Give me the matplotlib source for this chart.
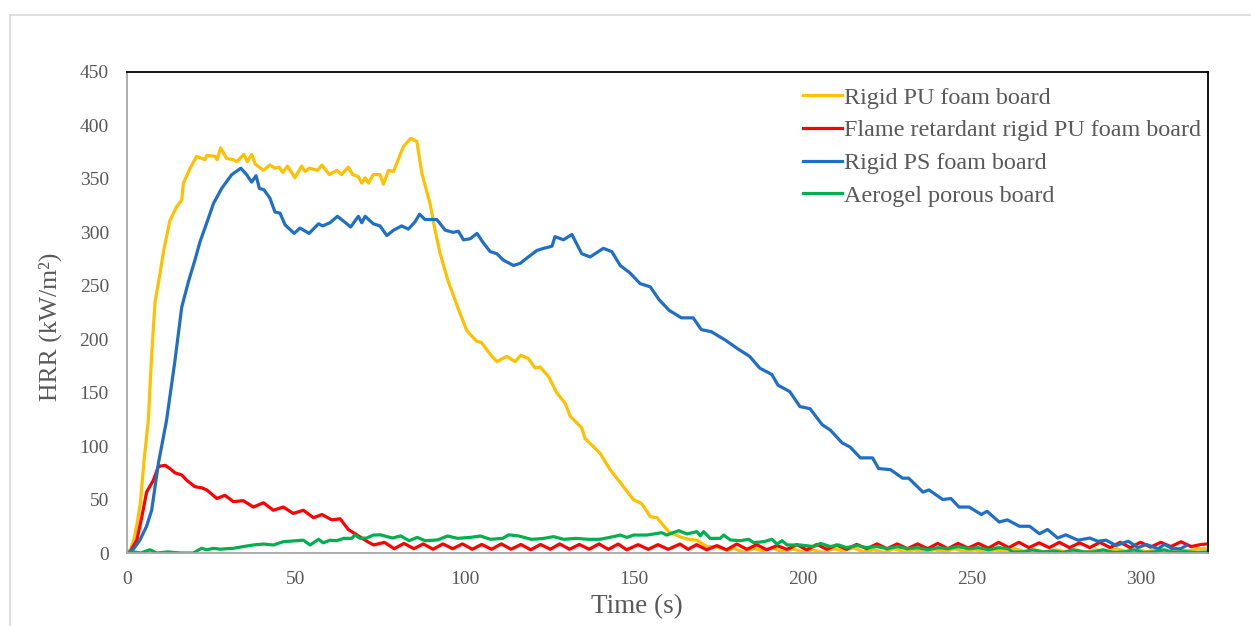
import matplotlib
matplotlib.use("Agg")
import matplotlib.pyplot as plt
from matplotlib.patches import Rectangle

plt.rcParams['font.family'] = ['Liberation Serif', 'DejaVu Serif']

# ---------------- data ----------------
labels = ["Rigid PU foam board", "Flame retardant rigid PU foam board",
          "Rigid PS foam board", "Aerogel porous board"]
colors = ["#FFC000", "#FF0000", "#1F6FC5", "#00B050"]

pu_t = [0, 1, 2, 3, 4, 5, 5.5, 6.3, 7.3, 8.3, 9.8, 10.8, 12.7, 14.7, 16.2, 16.7, 18.7, 20.6,
        23.1, 23.6, 26.1, 26.7, 27.7, 29.5, 31.5, 32.5, 34.6, 35.6, 36.9, 37.9, 40.4, 42.3,
        43.8, 45, 46.1, 47.5, 49.7, 51.7, 52.7, 54, 56.4, 57.7, 59.9, 62.1, 63.5, 65.5, 66.8,
        68.5, 69.5, 70.5, 71.5, 72.9, 74.9, 75.9, 77.4, 78.9, 80.3, 81.8, 84.0, 85.8, 87.3,
        89.7, 91.2, 92.7, 95.1, 98.1, 100.6, 103.5, 104.9, 108, 109.5, 112.4, 114.9, 116.6,
        118.8, 120.8, 122.3, 124.8, 127.2, 129.7, 131.2, 134.6, 135.6, 137.6, 140.1, 143.0,
        146.0, 149.9, 152.4, 154.9, 156.9, 160.3, 163.8, 166, 168.7, 171.7, 174.6, 177.6,
        179.6, 182.6, 185.5, 188, 191, 194, 197, 200, 203, 206, 209, 212, 215, 218, 221, 224,
        227, 230, 233, 236, 239, 242, 245, 248, 251, 254, 257, 260, 263, 266, 269, 272, 275,
        278, 281, 284, 287, 290, 293, 296, 299, 302, 305, 308, 311, 314, 317, 320]
pu_v = [0, 3, 12, 28, 48, 85, 100, 124, 185, 235, 262, 282, 311, 324, 330, 346, 360, 371,
        368, 372, 371, 368, 379, 369, 368, 366, 373, 366, 373, 364, 358, 363,
        360, 361, 356, 362, 351, 362, 357, 360, 358, 363, 354, 358, 354, 361, 354,
        352, 346, 351, 346, 354, 354, 345, 358, 357, 368, 380, 388, 385, 355,
        327, 302, 280, 254, 228, 208, 198, 197, 184, 179, 184, 179, 185,
        182, 173, 174, 165, 150, 140, 128, 117, 107, 101, 93, 78,
        66, 50, 46, 34, 33, 20, 15, 13, 12, 6, 5.6, 2.8,
        4.4, 0.5, 4.4, 2, 5, 1, 4, 1, 3, 0.5, 4, 2, 5, 1, 3, 0.5,
        4, 1, 3, 0.5, 3, 1, 4, 1, 3, 0.5, 3, 1, 4, 1, 3, 0.5, 3,
        1, 3, 0.5, 3, 1, 4, 1, 3, 1, 4, 1, 3, 2, 4, 4]

fr_t = [0, 0.9, 2.9, 4.4, 5.8, 7.8, 9.3, 11.3, 12.7, 14.2, 16.2, 17.7, 20.1, 22.1, 23.6,
        26.6, 29, 31.5, 34.4, 37.4, 40.4, 43.3, 46.3, 49.2, 52.2, 55.2, 57.7, 60.6, 63.1,
        65.5, 68, 71, 73, 76.2, 79.1, 82, 84.9, 87.7, 90.6, 93.5, 96.4, 99.3, 102.2, 105,
        107.9, 110.8, 113.7, 116.6, 119.5, 122.4, 125.3, 128.1, 131, 133.9, 136.8, 139.7,
        142.5, 145.4, 147.9, 151.3, 154.3, 157.2, 160.2, 163.7, 166.1, 168.6, 171.6, 174.6,
        177.5, 180.5, 183.5, 186.4, 189.4, 192.4, 195.4, 198.3, 201.2, 204.2, 207.2, 210,
        213, 216, 219, 222, 225, 228, 231, 234, 237, 240, 243, 246, 249, 252, 255, 258,
        261, 264, 267, 270, 273, 276, 279, 282, 285, 288, 291, 294, 297, 300, 303, 306,
        309, 312, 315, 318, 320]
fr_v = [0, 1, 12, 34, 57, 68, 81, 82, 79, 75, 73, 68, 62, 61, 59,
        51, 54, 48, 49, 43, 47, 40, 43, 37, 40, 33, 36, 31, 32,
        22, 17, 11, 7.5, 10, 4, 9, 4, 8.5, 3.5, 8.5, 4, 8.5, 3.5, 8,
        3.5, 8.5, 3.5, 8, 3, 8, 3.5, 8.5, 3.5, 8, 3.5, 8.5,
        3.4, 8.4, 3, 7.8, 3.4, 7.8, 3.4, 8.4, 3.4, 7.8, 3, 6.9,
        3, 8.4, 3.4, 7.8, 3, 6.9, 3.4, 7.8, 3, 8, 3.5, 7.5,
        3.5, 8, 4, 8.5, 4, 8.5, 4, 8.5, 4, 9, 4, 9, 4.5, 9, 4.5, 10,
        5, 10, 5, 9.5, 5, 10, 5, 9.5, 5, 10, 5, 10, 5, 10, 5.5, 10,
        6, 10.5, 6, 8, 8.5]

ps_t = [0, 0.4, 2, 3.8, 5.8, 7.3, 8.3, 9.3, 10.8, 11.7, 14.2, 16.2, 18.2, 20.1, 21.6, 23.4,
        25.6, 28, 31, 33.7, 35.4, 36.9, 38.2, 39.2, 40.5, 42.3, 43.8, 45.3, 46.8, 49.5, 51.2,
        53.9, 56.7, 57.9, 60.1, 62.3, 63.9, 66.2, 68.5, 69.5, 70.5, 72.9, 74.9, 76.9, 78.9,
        81.3, 83.3, 85.3, 86.6, 88.2, 91.7, 94.2, 96.6, 98.1, 99.6, 101.6, 103.6, 105.5,
        107.5, 109.5, 111.4, 114.4, 116.4, 118.4, 121.3, 123.3, 125.8, 126.7, 129.2, 131.7,
        134.6, 137.1, 141, 143.5, 146, 148.9, 151.9, 154.9, 157.5, 160.5, 164.1, 167.6, 170,
        173, 177.2, 180.8, 184.3, 187.3, 190.9, 192.7, 196.2, 199.2, 202.2, 205.8, 208.2,
        211.7, 214.1, 217.1, 220.7, 222.5, 226, 229.6, 231.4, 235.6, 237.4, 241.5, 243.9,
        246.3, 249.3, 252.9, 254.6, 258.2, 260.6, 264.2, 267.2, 270.1, 272.5, 275.5, 277.9,
        281.5, 285, 287.4, 289.8, 292.8, 296.4, 299.3, 301.7, 305.3, 307.1, 309.5, 311.9,
        313.6]
ps_v = [0, 0, 4, 12, 25, 40, 62, 84, 109, 124, 180, 230, 254, 274, 291, 307,
        327, 341, 354, 360, 354, 347, 353, 341, 340, 332, 319, 318, 307, 299, 304,
        299, 308, 306, 309, 315, 311, 305, 315, 309, 315, 308, 306, 297, 302,
        306, 303, 310, 317, 312, 312, 302, 300, 301, 293, 294, 299, 290,
        282, 280, 274, 269, 271, 276, 283, 285, 287, 296, 293, 298,
        280, 277, 285, 282, 269, 262, 252, 249, 237, 227, 220, 220, 209,
        207, 199, 191, 184, 173, 167, 157, 151, 137, 135, 120, 115,
        103, 99, 89, 89, 79, 78, 70, 70, 57, 59, 50, 51,
        43, 43, 36, 39, 29, 31, 25, 25, 18, 22, 14, 17,
        12, 14, 11, 12, 7, 11, 5, 8, 4, 8, 4, 4,
        7]

ag_t = [0, 2, 4, 6.8, 8.8, 12, 16, 19.6, 22.1, 23.6, 25.6, 27.6, 29.5, 31.5, 34.4, 37.4,
        40.4, 43.3, 46.3, 50.2, 52.2, 54.2, 56.7, 58.1, 60.1, 62.1, 64.1, 66.5, 67.5, 69,
        71, 72.9, 75, 78.6, 81, 83.5, 85.9, 88.3, 91.9, 94.9, 97.9, 101.6, 104.6, 107.6,
        111.2, 113, 116, 119.7, 123, 126.3, 129.3, 132.9, 136.6, 140, 144, 146, 148, 150,
        153.9, 158.3, 159.8, 163.3, 165.8, 168.7, 169.7, 170.7, 172.6, 175.6, 176.6, 178.6,
        181.5, 184, 185.5, 188.5, 190.9, 192.4, 193.9, 195.4, 199.3, 203.3, 205.3, 208.2,
        210.7, 213, 216, 219, 222, 225, 228, 231, 234, 237, 240, 243, 246, 249, 252, 255,
        258, 261, 262, 265, 268, 271, 274, 277, 280, 283, 286, 289, 292, 295, 298, 301,
        304, 307, 310, 313, 316, 320]
ag_v = [0, 1, 0, 3, 0, 1, 0, 0, 4.4, 3, 4.4, 3.5, 4, 4.4, 6, 7.5,
        8.4, 7.5, 10.6, 11.5, 12, 7.5, 12.8, 9.5, 12, 11.5, 13.7, 13.7, 16.8, 13.7,
        14, 16.8, 17, 14, 16, 11.5, 14.6, 11.5, 12.2, 15.9, 13.7, 14.6, 15.9, 12.8,
        13.7, 17, 15.9, 12.8, 13.5, 15.3, 12.8, 13.7, 12.8, 12.8, 15.3, 16.8, 14.6, 16.8,
        16.8, 19, 16.8, 20.9, 17.8, 20, 16, 20, 13.7, 13.7, 16.8, 12.2,
        11.5, 12.8, 9.7, 10.6, 12.8, 8.4, 11.5, 7.5, 7.5, 6, 9, 6,
        7.5, 5, 7, 5, 6, 4, 6, 4, 5, 3, 5, 4, 6, 4, 5, 3,
        5, 4, 1, 1, 3, 1, 2, 0.5, 3, 1, 1, 3, 0.5, 1, 3, 0.5,
        1, 3, 0.5, 1.5, 0.5, 1]

x_ticks = [0, 50, 100, 150, 200, 250, 300]
y_ticks = [0, 50, 100, 150, 200, 250, 300, 350, 400, 450]

# ---------------- drawing ----------------
W, H = 1251, 626
fig = plt.figure(figsize=(W / 100, H / 100), dpi=100)
fig.patches.append(Rectangle((10 / W, -0.1), 1.2, 1 - 15 / H + 0.1, transform=fig.transFigure,
                             fill=False, edgecolor="#D9D9D9", linewidth=1.2, zorder=0))

ax = fig.add_axes([127 / W, 1 - 553 / H, (1208 - 127) / W, (553 - 72) / H])

series = [(pu_t, pu_v), (fr_t, fr_v), (ps_t, ps_v), (ag_t, ag_v)]
for (t, v), c, lab in zip(series, colors, labels):
    ax.plot(t, v, color=c, lw=2.3, label=lab, solid_joinstyle="round")

ax.set_xlim(0, 320)
ax.set_ylim(0, 450)
ax.set_xticks(x_ticks)
ax.set_yticks(y_ticks)
txtc = "#595959"
ax.tick_params(axis="both", length=0, labelsize=14, labelcolor=txtc)
ax.tick_params(axis="y", pad=13)
ax.tick_params(axis="x", pad=13)
for s in ["left", "bottom"]:
    ax.spines[s].set_color("#A6A6A6")
    ax.spines[s].set_linewidth(1.3)
for s in ["top", "right"]:
    ax.spines[s].set_color("#000000")
    ax.spines[s].set_linewidth(1.3)

fig.text(637 / W, 1 - 607 / H, "Time (s)", fontsize=19.5, color=txtc,
         ha="center", va="center")
fig.text(50 / W, 1 - 327 / H, "HRR (kW/m²)", fontsize=18.5, color=txtc,
         ha="center", va="center", rotation=90)

leg = fig.legend(loc="upper left", bbox_to_anchor=(803 / W, 1 - 87 / H),
                 bbox_transform=fig.transFigure, frameon=False, fontsize=17.4,
                 handlelength=1.6, handletextpad=0.08, borderpad=0, borderaxespad=0,
                 labelspacing=0.44)
for txt in leg.get_texts():
    txt.set_color(txtc)

fig.savefig("out.png", dpi=100)
